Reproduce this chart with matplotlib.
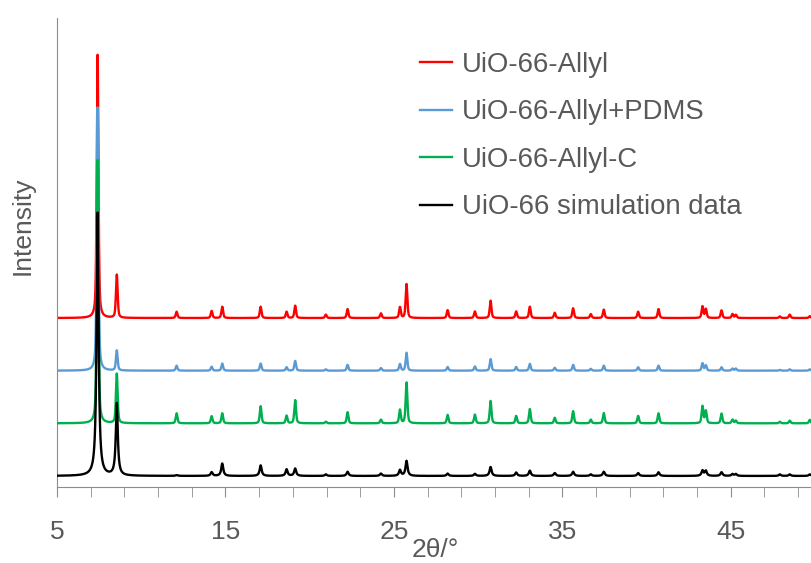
import matplotlib.pyplot as plt
import numpy as np

# peak table (2theta, heights with the main peak = 100)
peak_pos = [7.41, 8.55, 12.10, 14.18, 14.81, 17.09, 18.63, 19.14, 20.96, 22.25,
            24.23, 25.36, 25.75, 28.19, 29.81, 30.74, 32.26, 33.07, 34.55, 35.64,
            36.69, 37.46, 39.50, 40.71, 43.32, 43.52, 44.45, 45.10, 45.30, 47.91,
            48.50, 49.69]

h_allyl = [100, 16.4, 2.4, 2.7, 4.3, 4.3, 2.4, 4.7, 1.3, 3.4,
           1.8, 4.1, 12.9, 3.0, 2.5, 6.6, 2.5, 4.3, 2.0, 3.7,
           1.5, 3.2, 2.4, 3.4, 4.4, 3.4, 2.9, 1.5, 1.2, 0.6,
           1.3, 0.7]
h_pdms = [100, 7.6, 1.9, 1.5, 2.7, 2.7, 1.3, 3.7, 0.5, 2.2,
          1.0, 2.5, 6.8, 1.4, 1.6, 4.4, 1.4, 2.6, 1.1, 2.2,
          0.7, 1.9, 1.3, 1.9, 2.8, 2.0, 1.3, 0.8, 0.8, 0.3,
          0.5, 0.5]
h_allyl_c = [100, 18.8, 3.8, 2.7, 3.8, 6.5, 2.9, 8.8, 0.6, 4.2,
             1.4, 5.1, 15.5, 3.2, 3.3, 8.5, 2.8, 5.4, 2.1, 4.6,
             1.4, 3.9, 2.8, 3.8, 6.5, 4.7, 3.7, 1.4, 1.0, 0.6,
             1.0, 1.3]
h_sim = [100, 27.4, 0.3, 1.4, 4.7, 4.0, 2.5, 2.8, 0.6, 1.6,
         0.9, 2.2, 5.7, 0.9, 0.8, 3.4, 1.3, 2.0, 1.1, 1.6,
         0.6, 1.6, 1.1, 1.4, 2.0, 1.9, 1.4, 0.7, 0.7, 0.6,
         0.6, 0.6]

labels = ["UiO-66-Allyl", "UiO-66-Allyl+PDMS", "UiO-66-Allyl-C", "UiO-66 simulation data"]
offsets = [60, 40, 20, 0]
colors = ["#FF0000", "#5B9BD5", "#00B050", "#000000"]
heights = [h_allyl, h_pdms, h_allyl_c, h_sim]


def pattern(tt, heights, fwhm, eta):
    y = np.zeros_like(tt)
    for p, h in zip(peak_pos, heights):
        d = 2 * (tt - p) / fwhm
        lor = 1 / (1 + d**2)
        gau = np.exp(-np.log(2) * d**2)
        y += h * (eta * lor + (1 - eta) * gau)
    return y


tt = np.arange(5, 50, 0.005)

plt.rcParams['font.family'] = ['Liberation Sans', 'DejaVu Sans']
fig = plt.figure(figsize=(8.12, 5.63), dpi=100)
ax = fig.add_axes([57 / 812, 76 / 563, 758 / 812, 469 / 563])

for i in range(4):
    if i == 3:
        y = pattern(tt, heights[i], 0.14, 1.0)
    else:
        y = pattern(tt, heights[i], 0.12, 0.5)
    ax.plot(tt, y + offsets[i], color=colors[i], lw=1.7, label=labels[i], zorder=2 + i)

ax.set_xlim(5, 50)
ax.set_ylim(-4.2, 174)
ax.set_xticks([5, 15, 25, 35, 45])
ax.set_xticks(np.arange(5, 50, 2), minor=True)
ax.set_yticks([])
gray = "#595959"
for s in ["top", "right"]:
    ax.spines[s].set_visible(False)
ax.spines["left"].set_color("#8c8c8c")
ax.spines["bottom"].set_color("#8c8c8c")
ax.tick_params(axis='x', which='both', direction='out', length=7, color="#8c8c8c",
               labelsize=19, labelcolor=gray, pad=17)
ax.set_xlabel("2θ/°", fontsize=19, color=gray)
ax.xaxis.set_label_coords((435 - 57) / 758, -(550 - 487) / 469, transform=ax.transAxes)
ax.xaxis.label.set_va('center')
ax.set_ylabel("Intensity", fontsize=19, color=gray)
ax.yaxis.set_label_coords(-(57 - 23) / 758, (487 - 226) / 469, transform=ax.transAxes)
ax.yaxis.label.set_va('center')

leg = ax.legend(loc='upper left', bbox_to_anchor=(420 / 812, 1 - 52 / 563),
                bbox_transform=fig.transFigure, frameon=False, fontsize=19.8,
                borderpad=0, borderaxespad=0,
                handlelength=1.16, handletextpad=0.36, labelspacing=0.78)
for t in leg.get_texts():
    t.set_color(gray)

fig.savefig("out.png", dpi=100)
